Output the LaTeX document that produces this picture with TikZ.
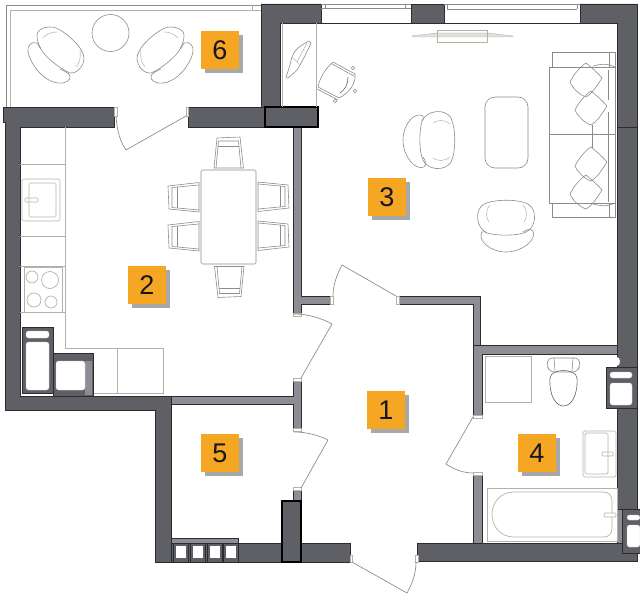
\documentclass[tikz,border=0pt]{standalone}
\usepackage{fontspec}
\setmainfont{Liberation Sans}
\usetikzlibrary{shadows}

\definecolor{walldark}{HTML}{5F5F66}
\definecolor{walllight}{HTML}{8D8D96}
\definecolor{wallline}{HTML}{2B2B30}
\definecolor{fixline}{HTML}{B4B2A8}
\definecolor{furnline}{HTML}{8C8C8C}
\definecolor{labelorange}{HTML}{F5A623}
\definecolor{labelshadow}{HTML}{A8A8A8}
\definecolor{labeltext}{HTML}{16161E}

\tikzset{
  wall/.style={fill=walldark, draw=wallline, line width=0.5pt},
  lightwall/.style={fill=walllight, draw=wallline, line width=0.6pt},
  heavywall/.style={fill=walldark, draw=black, line width=1.2pt},
  jamb/.style={fill=white, draw=fixline, line width=0.5pt},
  fixture/.style={draw=fixline, line width=0.7pt},
  furniture/.style={draw=furnline, line width=0.6pt},
  furnfaint/.style={draw=furnline!60, line width=0.6pt},
  furndark/.style={draw=furnline!70!black, line width=0.6pt},
  sash/.style={draw=furnline, line width=0.7pt},
  doorleaf/.style={draw=fixline!80!black, line width=0.7pt},
  washer/.style={fill=white, draw=white!80!black, line width=0.4pt, rounded corners=2.5pt},
  roomtag/.style={fill=labelorange, minimum size=38pt, inner sep=0pt,
    text=labeltext, font=\fontsize{27}{27}\selectfont,
    drop shadow={shadow xshift=3.5pt, shadow yshift=-4pt, fill=labelshadow, opacity=1}},
}

% dining chair, back towards -y of the page
\newcommand{\dinechair}{
  \draw[furniture] (-12,-15) -- (11,-16) -- (14.5,15) -- (-15,15) -- cycle;
  \draw[furniture] (-10.5,-12) -- (9.5,-12) -- (12,15);
  \draw[furniture] (-13,15) -- (-10.5,-12);
  \draw[furniture] (-11,-7) -- (10,-7);
}
% tub chair, back towards +y of the page
\newcommand{\tubchair}{
  \draw[furniture] (487,233) .. controls (476,228) and (474,210) .. (484,204)
    .. controls (495,199) and (518,199) .. (528,204)
    .. controls (538,210) and (536,228) .. (526,232)
    .. controls (518,236) and (497,236) .. (487,233);
  \draw[furniture] (482,232) .. controls (477,240) and (490,252) .. (506,252)
    .. controls (522,252) and (537,240) .. (533,231)
    .. controls (530,228) and (526,230) .. (523,232);
  \draw[furniture] (482,232) .. controls (484,231) and (486,232) .. (487,233);
  \draw[furnfaint] (490,205) .. controls (485,211) and (486,218) .. (489,222);
  \draw[furnfaint] (523,205) .. controls (528,211) and (527,218) .. (524,222);
}
% balcony armchair
\newcommand{\deckchair}{
  \draw[furniture] (37,35) .. controls (37,29) and (48,25) .. (56,28)
    .. controls (66,32) and (84,48) .. (84,58)
    .. controls (84,67) and (76,74) .. (70,73)
    .. controls (60,69) and (44,56) .. (41,49)
    .. controls (38,43) and (37,40) .. (37,35);
  \draw[furniture] (37,43) .. controls (31,41) and (27,46) .. (28,52)
    .. controls (31,66) and (45,82) .. (58,83)
    .. controls (66,84) and (71,80) .. (70,76)
    .. controls (69,73) and (64,71) .. (60,69);
  \draw[furniture] (37,43) .. controls (38,46) and (40,48) .. (41,49);
  \draw[furnfaint] (43,38) .. controls (46,34) and (52,32) .. (57,32);
  \draw[furnfaint] (80,50) .. controls (81,56) and (80,63) .. (76,67);
}
% sofa pillow
\newcommand{\sofapillow}{
  \draw[furniture] (0,-17) .. controls (6,-12) and (11,-8) .. (16,-2)
    .. controls (12,4) and (7,13) .. (0,17)
    .. controls (-6,15) and (-13,9) .. (-16,2)
    .. controls (-12,-6) and (-6,-13) .. (0,-17);
}

\begin{document}
\begin{tikzpicture}[x=1pt, y=-1pt]
  \useasboundingbox (0,0) rectangle (640,594);

  % balcony frame
  \draw[furniture] (6,107) -- (6,5) -- (261,5);
  \draw[fixture] (10,107) -- (10,10) -- (261,10);
  \draw[fixture] (252,5) -- (252,10);

  % light partition walls
  \fill[lightwall] (293,127) -- (301,127) -- (301,296) -- (333,296)
    -- (333,304) -- (301,304) -- (301,314) -- (293,314) -- cycle;
  \fill[lightwall] (396,296) -- (480,296) -- (480,345) -- (473,345)
    -- (473,304) -- (396,304) -- cycle;
  \fill[lightwall] (171,396) -- (293,396) -- (293,378) -- (301,378)
    -- (301,430) -- (293,430) -- (293,404) -- (171,404) -- cycle;
  \draw[lightwall] (293,488) rectangle (301,502);
  \fill[lightwall] (473,345) -- (617,345) -- (617,354) -- (482,354)
    -- (482,416) -- (473,416) -- cycle;
  \draw[lightwall] (473,474) rectangle (482,543);
  \draw[lightwall] (171,538) rectangle (238,543);
  \draw[lightwall] (617,509) rectangle (622,543);

  % outer walls
  \fill[wall] (261,4) -- (321,4) -- (321,23) -- (280,23) -- (280,108) -- (261,108) -- cycle;
  \draw[wall] (411,4) rectangle (444,23);
  \fill[wall] (580,4) -- (637,4) -- (637,367) -- (617,367) -- (617,23) -- (580,23) -- cycle;
  \draw[wall] (617,408) rectangle (637,509);
  \fill[wall] (3,107) -- (114,107) -- (114,127) -- (20,127) -- (20,396) -- (171,396) -- (171,562)
    -- (155,562) -- (155,410) -- (5,410) -- (5,122) -- (3,122) -- cycle;
  \draw[wall] (188,107) rectangle (266,127);
  \draw[wall] (171,543) rectangle (350,562);
  \draw[wall] (417,543) rectangle (637,561);
  \draw[wallline, line width=0.6pt] (617,127) -- (637,127);
  \fill[white] (617,357) .. controls (621,358) and (621,365) .. (617,366) -- cycle;
  \draw[heavywall] (265,107) rectangle (318,127);
  \draw[heavywall] (282,501) rectangle (301,562);

  % windows
  \draw[sash] (321,4) -- (411,4) (321,8) -- (411,8);
  \draw[wallline, line width=0.6pt] (321,23) -- (411,23);
  \draw[sash] (444,4) -- (580,4) (447,9) -- (577,9);
  \draw[wallline, line width=0.6pt] (444,23) -- (580,23);
  \draw[sash] (325,4) -- (325,8) (405,4) -- (405,8) (447,4) -- (447,9) (577,4) -- (577,9);

  % door jambs
  \draw[jamb] (114,107) rectangle (117,116);
  \draw[jamb] (186,107) rectangle (188,116);
  \draw[jamb] (293,313) rectangle (301,316);
  \draw[jamb] (293,378) rectangle (301,381);
  \draw[jamb] (330,296) rectangle (333,304);
  \draw[jamb] (396,296) rectangle (399,304);
  \draw[jamb] (293,428) rectangle (301,431);
  \draw[jamb] (293,487) rectangle (301,490);
  \draw[jamb] (350,555) rectangle (352,562);
  \draw[jamb] (415,555) rectangle (418,562);
  \draw[jamb] (473,415) rectangle (482,418);
  \draw[jamb] (473,472) rectangle (482,475);

  % door leaves
  \draw[doorleaf] (116,116) .. controls (117,130) and (120,142) .. (126,150) -- (186,116);
  \draw[doorleaf] (333,296) .. controls (333,285) and (337,274) .. (342,265) -- (396,296);
  \draw[doorleaf] (294,314) .. controls (308,314) and (321,318) .. (332,324) -- (301,378);
  \draw[doorleaf] (294,432) .. controls (306,432) and (318,435) .. (328,440) -- (301,488);
  \draw[doorleaf] (352,562) -- (407,593) .. controls (412,584) and (416,574) .. (416,562);
  \draw[doorleaf] (473,417) -- (446,464) .. controls (455,470) and (464,473) .. (473,473);

  % kitchen units
  \draw[fixture] (65,127) -- (65,348) -- (163,348) -- (163,393) -- (93,393);
  \draw[fixture] (117,348) -- (117,393);
  \draw[fixture] (20,164) -- (65,164) (20,236) -- (65,236) (20,266) -- (65,266) (20,312) -- (65,312);
  \draw[fixture, rounded corners=1.5pt] (22,179) rectangle (60,221);
  \draw[fixture, rounded corners=1.5pt] (29,183) rectangle (56,217);
  \draw[fixture, rounded corners=1pt] (25,198) rectangle (38,202);
  \draw[fixture] (24,267) rectangle (62,312);
  \draw[fixture] (32,277) circle (6);
  \draw[fixture] (50,280) circle (8.5);
  \draw[fixture] (34,300) circle (7);
  \draw[fixture] (51,302) circle (6);
  \draw[wall] (22,327) rectangle (53,393);
  \draw[washer] (26,331) rectangle (49,338);
  \draw[washer] (26,342) rectangle (49,390);
  \draw[wall] (53,353) rectangle (93,396);
  \fill[walllight] (85,361) rectangle (92,395);
  \draw[washer] (56,361) rectangle (85,390);

  % room 5 bottom vents
  \foreach \xv in {173,190,207,223} {
    \draw[wall] (\xv,543) rectangle (\xv+15,562);
    \fill[white] (\xv+2.5,546) rectangle (\xv+12.5,558);
  }

  % bathroom
  \draw[fixture] (485,356) rectangle (531,402);
  \draw[furniture, rounded corners=4pt] (550,372) -- (547,366) -- (548,358) -- (579,358) -- (580,366) -- (577,372) -- cycle;
  \draw[furniture] (554,358) -- (555,371) (573,358) -- (572,371);
  \draw[furndark] (550,378) .. controls (549,396) and (556,406) .. (563.5,406)
    .. controls (571,406) and (578,396) .. (577,378) .. controls (576,368) and (551,368) .. (550,378);
  \draw[fixture, rounded corners=1.5pt] (583,431) rectangle (616,477);
  \draw[fixture, rounded corners=1.5pt] (585,433) rectangle (608,474);
  \draw[fixture, rounded corners=1pt] (602,452) rectangle (613,456);
  \draw[fixture] (487,488) rectangle (617,541);
  \draw[fixture] (514,492) -- (603,492) .. controls (609,492) and (612,496) .. (612,501)
    -- (612,528) .. controls (612,534) and (609,537) .. (603,537) -- (514,537)
    .. controls (500,537) and (492,526) .. (492,514.5) .. controls (492,503) and (500,492) .. (514,492);
  \draw[fixture, fill=white, rounded corners=1pt] (604,513) rectangle (616,517);
  \draw[wall] (606,367) rectangle (637,408);
  \draw[washer] (610,372) rectangle (632,378);
  \draw[washer] (610,383) rectangle (632,405);
  \draw[wall] (622,509) rectangle (640,553);
  \draw[washer] (627,515) rectangle (640,520);
  \draw[washer] (627,525) rectangle (640,547);

  % balcony furniture
  \draw[furniture] (110.5,33) circle (18.5);
  \deckchair
  \begin{scope}[shift={(221,0)}, xscale=-1]
    \deckchair
  \end{scope}

  % dining set
  \draw[furniture, rounded corners=1.5pt] (201,170) rectangle (256,264);
  \foreach \xc/\yc/\ac in {229/153/0, 229/281.5/180, 184/197/90, 184/236/90, 273/197/-90, 273/236/-90} {
    \begin{scope}[shift={(\xc,\yc)}, rotate=\ac]
      \dinechair
    \end{scope}
  }

  % living room
  \draw[fixture] (282,23) -- (282,107);
  \draw[fixture] (316,23) -- (316,107);
  \draw[furniture] (309,41) .. controls (301,45) and (294,50) .. (292,57)
    .. controls (290,65) and (288,72) .. (286,77) -- (288,78)
    .. controls (293,74) and (298,70) .. (300,65) .. controls (304,58) and (308,50) .. (311,43) -- cycle;
  \draw[furnfaint] (292,57) -- (300,65);
  \draw[furnfaint] (307,43) -- (297,62);
  \draw[furniture] (333,62) -- (355,74) (332,64) -- (354,76);
  \draw[furniture] (318,87) -- (339,98) (317,89) -- (338,100);
  \draw[furniture] (333,62) .. controls (326,68) and (320,77) .. (318,87);
  \draw[furniture] (355,74) .. controls (356,84) and (349,93) .. (339,98);
  \draw[furndark] (348,77) .. controls (348,84) and (345,90) .. (340,93);
  \draw[furniture] (353,68) circle (1.8) (355,91) circle (1.8) (335,101) circle (1.8);
  \draw[fixture, fill=fixline!40, line width=0.4pt] (412,36) -- (437,33) -- (487,33) -- (513,36) -- (513,37) -- (412,37) -- cycle;
  \draw[fixture] (437,30) rectangle (487,42);
  \draw[furniture, rounded corners=10pt] (485,97) rectangle (528,168);
  \tubchair
  \begin{scope}[shift={(429,140)}, rotate=-90, shift={(-506,-226)}]
    \tubchair
  \end{scope}

  % sofa
  \draw[furniture] (552,67) -- (552,52) -- (615,52) -- (615,67);
  \draw[furniture] (552,203) -- (552,217) -- (615,217) -- (615,203);
  \draw[furniture] (609,52) -- (609,67) (609,203) -- (609,217);
  \draw[furniture] (549,67) rectangle (615,203);
  \draw[furniture] (549,134) -- (615,134);
  \draw[furniture] (608,70) -- (608,100) (608,112) -- (608,202);
  \draw[furniture] (592,125) -- (592,148);
  \draw[furniture] (593,66) .. controls (600,64) and (606,63) .. (615,67);
  \draw[furniture] (593,204) .. controls (600,206) and (606,207) .. (615,203);
  \foreach \xp/\yp in {586/80, 591/108, 591/164, 586/192} {
    \begin{scope}[shift={(\xp,\yp)}]
      \sofapillow
    \end{scope}
  }

  % room numbers
  \node[roomtag] (room_one) at (386,410) {1};
  \node[roomtag] (room_two) at (147,285) {2};
  \node[roomtag] (room_three) at (387,197) {3};
  \node[roomtag] (room_four) at (537,453) {4};
  \node[roomtag] (room_five) at (220,453) {5};
  \node[roomtag] (room_six) at (220,50) {6};
\end{tikzpicture}
\end{document}
